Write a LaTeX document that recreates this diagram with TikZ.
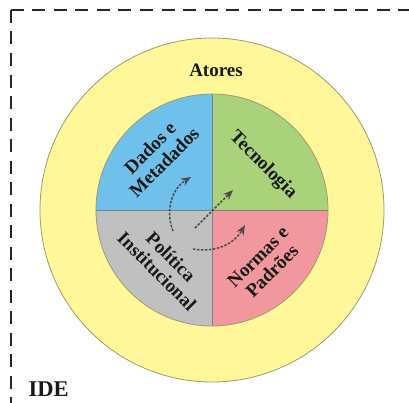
\documentclass[tikz,border=0pt]{standalone}
\usepackage{fontspec}
\setmainfont{Liberation Serif}
\usetikzlibrary{arrows.meta, positioning}

\definecolor{ringyellow}{RGB}{255,247,153}
\definecolor{dadosblue}{RGB}{112,192,236}
\definecolor{tecgreen}{RGB}{170,210,122}
\definecolor{normaspink}{RGB}{240,152,158}
\definecolor{politgray}{RGB}{192,192,192}
\definecolor{rimline}{RGB}{160,155,110}
\definecolor{flowgray}{RGB}{75,75,75}

\tikzset{
  sector text/.style={font=\bfseries\fontsize{19}{20}\selectfont, align=center, text=black!90},
  flow/.style={-{Stealth[length=10pt,width=8pt]}, flowgray, line width=1.5pt, dash pattern=on 2.5pt off 1.5pt},
  frame line/.style={line width=2pt, dash pattern=on 13pt off 8.5pt, black!85},
}

\begin{document}
\begin{tikzpicture}[x=1pt,y=1pt]
  \useasboundingbox (-212,-192) rectangle (197,210);

  % dashed frame, cut by the page
  \coordinate (frame nw) at (-201,200);
  \draw[frame line] (frame nw) -- ++(430,0);
  \draw[frame line] (frame nw) -- ++(0,-430);

  % outer ring
  \draw[rimline, fill=ringyellow, line width=0.8pt] (0,0) circle[radius=172pt];

  % four sectors
  \foreach \start/\col in {0/tecgreen, 90/dadosblue, 180/politgray, 270/normaspink}
    \fill[\col] (0,0) -- (\start:116pt) arc[start angle=\start, delta angle=90, radius=116pt] -- cycle;
  \draw[gray, line width=0.6pt] (0,116) -- (0,-116) (-116,0) -- (116,0);
  \draw[rimline, line width=0.8pt] (0,0) circle[radius=116pt];

  \node[sector text] (atores) at (4,140) {Atores};
  \node[sector text, rotate=45] (dados) at (-55,55) {Dados e\\Metadados};
  \node[sector text, rotate=-45] (tecnologia) at (51,45) {Tecnologia};
  \node[sector text, rotate=-45] (politica) at (-48,-54) {Política\\Institucional};
  \node[sector text, rotate=45] (normas) at (53,-54) {Normas e\\Padrões};
  \node[font=\bfseries\fontsize{22.5}{24}\selectfont, text=black!90, anchor=west] (ide) at (-187,-179) {IDE};

  % flows out of the policy sector
  \coordinate (flow1 a) at (-39,-21);
  \coordinate (flow1 b) at (-21,33);
  \coordinate (flow2 a) at (-17,-18);
  \coordinate (flow2 b) at (21,20);
  \coordinate (flow3 a) at (-19,-39);
  \coordinate (flow3 b) at (33,-15);
  \draw[flow] (flow1 a) to[bend left=40] (flow1 b);
  \draw[flow] (flow2 a) -- (flow2 b);
  \draw[flow] (flow3 a) to[bend right=35] (flow3 b);
\end{tikzpicture}
\end{document}
